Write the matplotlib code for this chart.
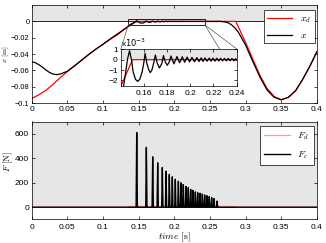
import numpy as np
import matplotlib
matplotlib.use("Agg")
import matplotlib.pyplot as plt
from matplotlib.patches import Rectangle, ConnectionPatch
from matplotlib.ticker import FuncFormatter

plt.rcParams['font.family'] = ['Liberation Sans', 'DejaVu Sans']
plt.rcParams['mathtext.fontset'] = 'cm'
plt.rcParams['axes.linewidth'] = 0.5

# desired position x_d [m]
t_xd = [0.000, 0.010, 0.020, 0.030, 0.040, 0.050, 0.060, 0.070, 0.080, 0.090,
        0.100, 0.110, 0.120, 0.130, 0.140, 0.150, 0.286, 0.290, 0.300, 0.310,
        0.320, 0.330, 0.340, 0.350, 0.360, 0.370, 0.380, 0.390, 0.400]
x_d = [-0.0945, -0.0900, -0.0845, -0.0770, -0.0690, -0.0615, -0.0545, -0.0475,
       -0.0405, -0.0340, -0.0280, -0.0220, -0.0165, -0.0095, -0.0025, 0.0,
       0.0, -0.0070, -0.0260, -0.0460, -0.0660, -0.0820, -0.0920, -0.0960,
       -0.0930, -0.0850, -0.0710, -0.0550, -0.0370]

# measured position x [m]
t_x = [0.000, 0.005, 0.010, 0.015, 0.020, 0.025, 0.030, 0.035, 0.040, 0.045,
       0.050, 0.060, 0.070, 0.080, 0.090, 0.100, 0.110, 0.120, 0.130, 0.135,
       0.1400, 0.1424, 0.1440, 0.1455, 0.1473, 0.1490, 0.1505, 0.1525, 0.1543,
       0.1562, 0.1582, 0.1597, 0.1608, 0.1622, 0.1640, 0.1653, 0.1667, 0.1683,
       0.1697, 0.1712, 0.1732, 0.1752, 0.1767, 0.1782, 0.1800, 0.1818, 0.1832,
       0.1858, 0.1884, 0.1907, 0.1930, 0.1951, 0.1972, 0.1993, 0.2014, 0.2036,
       0.2057, 0.2076, 0.2094, 0.2110, 0.2126, 0.2145, 0.2164, 0.2180, 0.2196,
       0.2213, 0.2230, 0.2246, 0.2262, 0.2279, 0.2295, 0.2312, 0.2328, 0.2344,
       0.2360, 0.2377, 0.2393, 0.2410, 0.2426, 0.2443, 0.2459, 0.2475, 0.2490,
       0.2507, 0.2524, 0.2540, 0.2557, 0.2580, 0.2600, 0.2650, 0.2700, 0.2750,
       0.2800, 0.2850, 0.2900, 0.3000, 0.3100, 0.3200, 0.3300, 0.3400, 0.3500,
       0.3600, 0.3700, 0.3800, 0.3900, 0.4000]
x_meas = [-0.0496, -0.0505, -0.0530, -0.0560, -0.0595, -0.0625, -0.0645, -0.0652,
          -0.0645, -0.0628, -0.0610, -0.0545, -0.0475, -0.0405, -0.0340, -0.0280,
          -0.0215, -0.0155, -0.0095, -0.0065,
          -0.0036, -0.00240, -0.00120, 0.0, 0.00087, 0.0, -0.00120, -0.00190, -0.00210,
          -0.00190, -0.00120, -0.00030, 0.00060, -0.00030, -0.00100, -0.00125, -0.00100,
          -0.00030, 0.00045, -0.00030, -0.00080, -0.00040, 0.00040, -0.00020, -0.00055,
          -0.00020, 0.00035, -0.00040, 0.00030, -0.00030, 0.00028, -0.00025, 0.00025,
          -0.00022, 0.00022, -0.00020, 0.00020, -0.00018, 0.00018, -0.00017, 0.00017,
          -0.00015, 0.00015, -0.00015, 0.00015, -0.00014, 0.00014, -0.00013, 0.00013,
          -0.00012, 0.00012, -0.00012, 0.00012, -0.00011, 0.00011, -0.00010, 0.00010,
          -0.00010, 0.00010, -0.00010, 0.00008, -0.00008, 0.00008, -0.00007, 0.00006,
          -0.00006, 0.00005, -0.00005, 0.00004, 0.0, -0.0005, -0.0015,
          -0.0040, -0.0080, -0.0135, -0.0290, -0.0490, -0.0680, -0.0840, -0.0930, -0.0960,
          -0.0930, -0.0850, -0.0710, -0.0550, -0.0370]

# contact force peaks F_c [N]
t_spike = [0.1473, 0.1608, 0.1697, 0.1767, 0.1832, 0.1884, 0.1930, 0.1972, 0.2014,
           0.2057, 0.2094, 0.2126, 0.2164, 0.2196, 0.2230, 0.2262, 0.2295, 0.2328,
           0.2360, 0.2393, 0.2426, 0.2459, 0.2490, 0.2524, 0.2557, 0.2600]
F_spike = [610, 489, 411, 362, 324, 294, 267, 248, 228, 212, 199, 185, 169, 159,
           145, 137, 125, 118, 113, 107, 100, 94, 86, 78, 70, 50]

# desired force F_d [N]
t_Fd = [0.0, 0.135, 0.136, 0.285, 0.286, 0.4]
F_d = [0, 0, 6, 6, 0, 0]

# build contact force trace from the peaks
w = 0.0009
t_Fc = [0.0]
F_c = [0.0]
for ts, fs in zip(t_spike, F_spike):
    t_Fc += [ts - w, ts, ts + w]
    F_c += [0.0, fs, 0.0]
t_Fc.append(0.4)
F_c.append(0.0)

GREY = '#e6e6e6'
RED = '#ff0000'
PINK = '#ff9a9a'


def fmt(v, pos):
    return ('%g' % v).replace('-', '\u2212')


def style(ax):
    ax.tick_params(direction='in', length=2, width=0.5, top=True, right=True,
                   labelsize=6, pad=2)
    ax.xaxis.set_major_formatter(FuncFormatter(fmt))
    ax.yaxis.set_major_formatter(FuncFormatter(fmt))


fig = plt.figure(figsize=(3.26, 2.43), dpi=100)
ax1 = fig.add_axes([0.0972, 0.576, 0.875, 0.403])
ax2 = fig.add_axes([0.0972, 0.097, 0.875, 0.403])

# top: positions
ax1.axhspan(0, 0.02, color=GREY, lw=0, zorder=0)
ax1.axhline(0, color='k', lw=0.6, zorder=1)
ax1.plot(t_xd, x_d, color=RED, lw=0.9, label=r'$x_d$', zorder=2)
ax1.plot(t_x, x_meas, color='k', lw=0.9, label=r'$x$', zorder=3)
ax1.set_xlim(0, 0.4)
ax1.set_ylim(-0.1, 0.02)
ax1.set_xticks(np.arange(0, 0.41, 0.05))
ax1.set_yticks([-0.1, -0.08, -0.06, -0.04, -0.02, 0])
style(ax1)
ax1.tick_params(axis='y', labelsize=5.3, pad=1.5)
# y label placed by hand: the tick labels leave almost no room
fig.text(0.002, 0.778, r'$x\ \mathrm{[m]}$', fontsize=5.2, rotation=90,
         ha='left', va='center')
leg1 = ax1.legend(loc='upper right', bbox_to_anchor=(0.992, 0.949), borderaxespad=0,
                  fontsize=7, handlelength=2.6, labelspacing=0.5, borderpad=0.35,
                  fancybox=False, edgecolor='k', framealpha=1)
leg1.get_frame().set_linewidth(0.5)

# zoom rectangle
rect_t = (0.1355, 0.243)
rect_y = (-0.0045, 0.0028)
ax1.add_patch(Rectangle((rect_t[0], rect_y[0]), rect_t[1] - rect_t[0],
                        rect_y[1] - rect_y[0], fill=False, ec='k', lw=0.6, zorder=4))

# inset
axi = fig.add_axes([0.370, 0.648, 0.358, 0.149])
axi.axhspan(0, 1.0, color=GREY, lw=0, zorder=0)
axi.plot(t_xd, np.array(x_d) * 1e3, color=RED, lw=0.9, zorder=2)
axi.plot(t_x, np.array(x_meas) * 1e3, color='k', lw=0.9, zorder=3)
axi.set_xlim(0.1396, 0.2407)
axi.set_ylim(-2.5, 1.0)
axi.set_xticks([0.16, 0.18, 0.2, 0.22, 0.24])
axi.set_yticks([-2, -1, 0, 1])
style(axi)
axi.tick_params(axis='x', pad=3)
axi.text(0.0, 1.02, r'x$10^{-3}$', transform=axi.transAxes, fontsize=6,
         ha='left', va='bottom', math_fontfamily='dejavusans')

for tx, fx in [(rect_t[0], 0.0), (rect_t[1], 0.85), (rect_t[1], 1.0)]:
    con = ConnectionPatch(xyA=(tx, rect_y[0]), coordsA=ax1.transData,
                          xyB=(fx, 1.0), coordsB=axi.transAxes,
                          color='#555555', lw=0.5)
    fig.add_artist(con)

# bottom: forces
ax2.axhspan(0, 700, color=GREY, lw=0, zorder=0)
ax2.axhline(0, color='k', lw=0.6, zorder=1)
ax2.plot(t_Fd, F_d, color=PINK, lw=0.9, label=r'$F_d$', zorder=2)
ax2.plot(t_Fc, F_c, color='k', lw=1.0, label=r'$F_c$', zorder=3)
ax2.set_xlim(0, 0.4)
ax2.set_ylim(-100, 700)
ax2.set_xticks(np.arange(0, 0.41, 0.05))
ax2.set_yticks([0, 200, 400, 600])
style(ax2)
ax2.tick_params(axis='x', pad=3)
ax2.set_ylabel(r'$F\ \mathrm{[N]}$', fontsize=6.5)
ax2.yaxis.set_label_coords(-0.06, 0.59)
ax2.set_xlabel(r'$time\ \mathrm{[s]}$', fontsize=7)
ax2.xaxis.set_label_coords(0.5, -0.115)
leg2 = ax2.legend(loc='upper right', bbox_to_anchor=(0.988, 0.957), borderaxespad=0,
                  fontsize=7, handlelength=2.6, labelspacing=0.75, borderpad=0.45,
                  fancybox=False, edgecolor='k', framealpha=1)
leg2.get_frame().set_linewidth(0.5)

fig.savefig('out.png', dpi=100)
